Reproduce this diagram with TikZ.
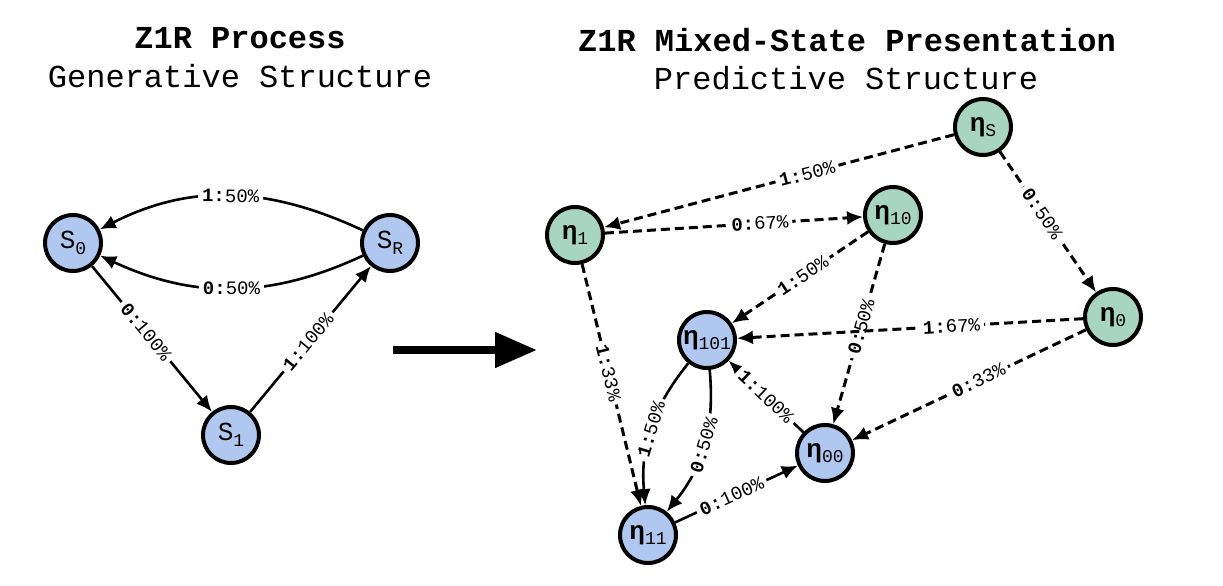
\documentclass[tikz,border=0pt]{standalone}
\usepackage{fontspec}
\setmonofont{Liberation Mono}
\usetikzlibrary{arrows.meta}
\definecolor{recblue}{RGB}{176,200,240}
\definecolor{trgreen}{RGB}{168,213,192}
\newcommand{\sym}[2]{\textbf{#1:}#2}
\newcommand{\stname}[2]{#1\raisebox{-0.4ex}{\fontsize{9}{9}\selectfont #2}}

\begin{document}
\begin{tikzpicture}[x=0.5pt,y=0.5pt,
          every node/.style={font=\ttfamily},
          state/.style={circle,draw,line width=2pt,minimum size=28pt,inner sep=0pt,
                        font=\ttfamily\fontsize{13}{13}\selectfont},
          rec/.style={state,fill=recblue},
          trans/.style={state,fill=trgreen},
          edge/.style={line width=1.3pt,-{Latex[length=8pt,width=7pt]}},
          tedge/.style={edge,line width=1.5pt,dash pattern=on 4.5pt off 2.5pt},
          lab/.style={sloped,fill=white,inner sep=2pt,
                      font=\ttfamily\fontsize{9.5}{10}\selectfont},
          title/.style={font=\ttfamily\fontsize{16}{18}\selectfont}]
        \useasboundingbox (0,0) rectangle (1223,585);
        % titles
        \node[title] (t1) at (240,547) {\textbf{Z1R Process}};
        \node[title] (t2) at (240,509) {Generative Structure};
        \node[title] (t3) at (847,545) {\textbf{Z1R Mixed-State Presentation}};
        \node[title] (t4) at (846,507) {Predictive Structure};
        % generative states
        \node[rec] (s0) at (73,342)  {\stname{S}{0}};
        \node[rec] (sR) at (390,342) {\stname{S}{R}};
        \node[rec] (s1) at (231,150) {\stname{S}{1}};
        \draw[edge] (sR) to[out=155,in=27] node[lab] {\sym{1}{50\%}} (s0);
        \draw[edge] (sR) to[out=205,in=-25] node[lab] {\sym{0}{50\%}} (s0);
        \draw[edge] (s0) -- node[lab,pos=0.45] {\sym{0}{100\%}} (s1);
        \draw[edge] (s1) -- node[lab,pos=0.48] {\sym{1}{100\%}} (sR);
        % big arrow
        \coordinate (arL) at (393,235);
        \coordinate (arR) at (537,235);
        \draw[line width=4pt,-{Triangle[length=21pt,width=17pt]}] (arL) -- (arR);
        % mixed states
        \node[trans] (etaS)  at (983,458)  {\stname{\textbf{η}}{S}};
        \node[trans] (eta1)  at (575,350)  {\stname{\textbf{η}}{1}};
        \node[trans] (eta10) at (893,370)  {\stname{\textbf{η}}{10}};
        \node[trans] (eta0)  at (1113,268) {\stname{\textbf{η}}{0}};
        \node[rec]   (eta101) at (707,245) {\stname{\textbf{η}}{101}};
        \node[rec]   (eta00)  at (825,132) {\stname{\textbf{η}}{00}};
        \node[rec]   (eta11)  at (648,50)  {\stname{\textbf{η}}{11}};
        % transient edges
        \draw[tedge] (etaS) -- node[lab,pos=0.42] {\sym{1}{50\%}} (eta1);
        \draw[tedge] (etaS) -- node[lab,pos=0.44] {\sym{0}{50\%}} (eta0);
        \draw[tedge] (eta1) -- node[lab,pos=0.6] {\sym{0}{67\%}} (eta10);
        \draw[tedge] (eta1) -- node[lab,pos=0.45] {\sym{1}{33\%}} (eta11);
        \draw[tedge] (eta10) -- node[lab,pos=0.48] {\sym{1}{50\%}} (eta101);
        \draw[tedge] (eta10) -- node[lab,pos=0.46] {\sym{0}{50\%}} (eta00);
        \draw[tedge] (eta0) -- node[lab,pos=0.38] {\sym{1}{67\%}} (eta101);
        \draw[tedge] (eta0) -- node[lab,pos=0.46] {\sym{0}{33\%}} (eta00);
        % recurrent edges
        \draw[edge] (eta101) to[bend right=22] node[lab] {\sym{1}{50\%}} (eta11);
        \draw[edge] (eta101) to[bend left=22] node[lab] {\sym{0}{50\%}} (eta11);
        \draw[edge] (eta00) -- node[lab] {\sym{1}{100\%}} (eta101);
        \draw[edge] (eta11) -- node[lab,pos=0.46] {\sym{0}{100\%}} (eta00);
\end{tikzpicture}
\end{document}
